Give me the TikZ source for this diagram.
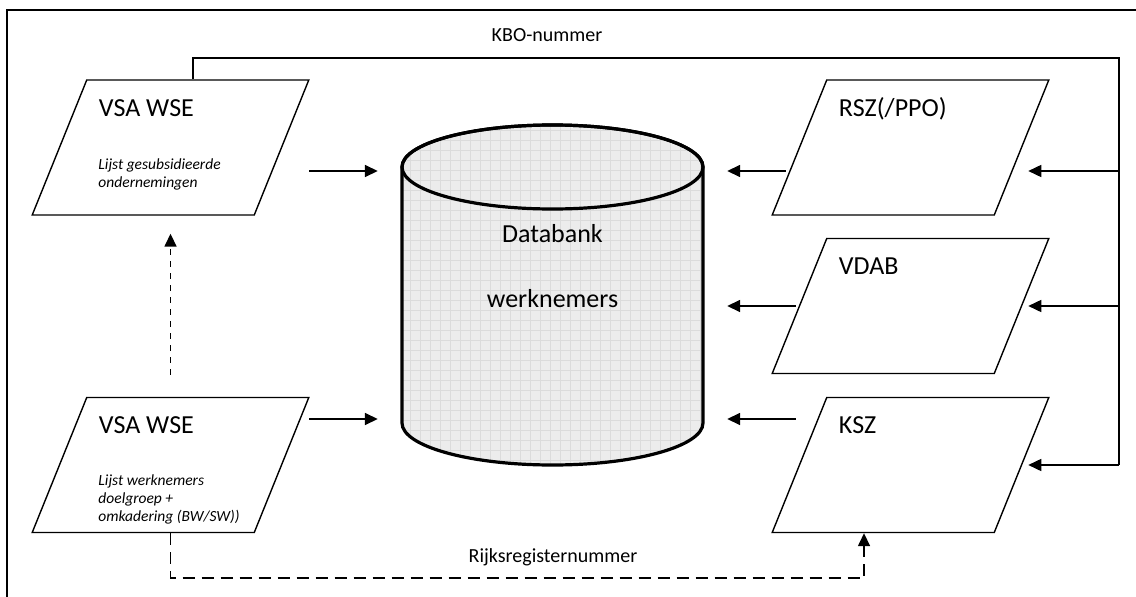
\documentclass[tikz,border=0pt]{standalone}
\usepackage{fontspec}
\setmainfont{Carlito}
\usetikzlibrary{shapes.geometric, arrows.meta}

\begin{document}
\begin{tikzpicture}[x=1pt, y=-1pt, >={Triangle[length=13pt, width=12pt]},
    src/.style={trapezium, trapezium left angle=68, trapezium right angle=112,
      draw, line width=1.4pt, inner sep=0pt,
      text width=167.5pt, text height=135pt, text depth=0pt},
    title/.style={anchor=base west, inner sep=0pt, font=\fontsize{26}{30}\selectfont},
    note/.style={anchor=base west, inner sep=0pt, align=left,
      font=\fontsize{15.5}{18}\selectfont\itshape},
    linktext/.style={anchor=base, inner sep=0pt, font=\fontsize{20}{24}\selectfont},
    flow/.style={->, line width=1.6pt},
    idline/.style={line width=1.2pt},
    rrline/.style={->, line width=1.6pt, dash pattern=on 12pt off 7pt},
    upline/.style={->, line width=1.6pt, dash pattern=on 6pt off 6pt}]

  \useasboundingbox (0,0) rectangle (1136,597);
  \draw[line width=1.6pt] (7,597) -- (7,10) -- (1136,10);

  % bronnen
  \node[src] (vsa1) at (170.5,147.5) {};
  \node[src] (vsa2) at (170.5,465) {};
  \node[src] (rsz) at (910.5,147.5) {};
  \node[src] (vdab) at (910.5,306) {};
  \node[src] (ksz) at (910.5,465) {};

  \foreach \n/\t in {vsa1/VSA WSE, vsa2/VSA WSE, rsz/{RSZ(/PPO)}, vdab/VDAB, ksz/KSZ}
    \node[title] (\n-t) at ([shift={(12.5,37)}]\n.top left corner) {\t};

  \node[note] (vsa1-n) at ([shift={(12,108)}]vsa1.top left corner) {Lijst gesubsidieerde\\ondernemingen};
  \node[note] (vsa2-n) at ([shift={(12,125)}]vsa2.top left corner) {Lijst werknemers\\doelgroep +\\omkadering (BW/SW))};

  % databank
  \node[minimum width=301pt, minimum height=340pt, inner sep=0pt] (db) at (552.5,295) {};
  \begin{scope}
    \fill[gray!15] (402,167) -- (402,423) arc[start angle=180, end angle=360, x radius=150.5pt, y radius=42pt]
      -- (703,167) arc[start angle=0, end angle=180, x radius=150.5pt, y radius=42pt] -- cycle;
    \clip (402,167) -- (402,423) arc[start angle=180, end angle=360, x radius=150.5pt, y radius=42pt]
      -- (703,167) arc[start angle=0, end angle=180, x radius=150.5pt, y radius=42pt] -- cycle;
    \draw[gray!28, line width=0.5pt, step=10pt] (400,120) grid (705,470);
  \end{scope}
  \draw[line width=3.2pt] (402,167) -- (402,423) arc[start angle=180, end angle=360, x radius=150.5pt, y radius=42pt]
    -- (703,167) arc[start angle=0, end angle=180, x radius=150.5pt, y radius=42pt] -- cycle;
  \draw[line width=3.2pt] (552.5,167) ellipse [x radius=150.5pt, y radius=42pt];
  \node[title, anchor=base] (db-t1) at (552.5,242) {Databank};
  \node[title, anchor=base] (db-t2) at (552.5,307) {werknemers};

  % naar de databank
  \coordinate (a1) at ([shift={(27,23.5)}]vsa1.east);
  \coordinate (a2) at ([shift={(27,-46)}]vsa2.east);
  \coordinate (b1) at ([shift={(-13,23.5)}]rsz.west);
  \coordinate (b2) at ([shift={(-3,0)}]vdab.west);
  \coordinate (b3) at ([shift={(-3,-46)}]ksz.west);
  \foreach \c in {a1,a2}
    \draw[flow, shorten >=24pt] (\c) -- (db.west |- \c);
  \foreach \c in {b1,b2,b3}
    \draw[flow, shorten >=24pt] (\c) -- (db.east |- \c);

  % KBO-nummer
  \coordinate (kbo) at ([xshift=-5pt]vsa1.top side);
  \coordinate (bus) at (1119,58);
  \coordinate (c1) at ([yshift=-23.5pt]rsz.east);
  \draw[idline] (kbo) |- (bus) -- (bus |- ksz.east);
  \foreach \c in {c1, vdab.east, ksz.east}
    \draw[flow, shorten >=6pt] (bus |- \c) -- (\c);
  \node[linktext] (kbo-t) at (547,41) {KBO-nummer};

  % Rijksregisternummer
  \draw[upline, shorten <=22pt, shorten >=18pt] (vsa2.north) -- (vsa1.south);
  \draw[rrline] (vsa2.south) -- ++(0,45) -| ([xshift=-46.5pt]ksz.south);
  \node[linktext] (rr-t) at (553,562) {Rijksregisternummer};
\end{tikzpicture}
\end{document}
